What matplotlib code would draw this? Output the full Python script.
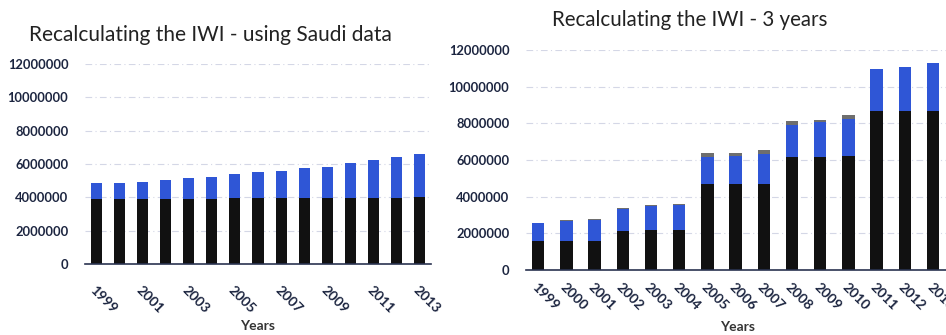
import matplotlib
matplotlib.use("Agg")
import matplotlib.pyplot as plt
import numpy as np

years = [str(y) for y in range(1999, 2014)]

# Left panel: IWI recalculated with Saudi data (values in units)
saudi_base = [3.90e6] * 6 + [3.96e6] * 8 + [4.02e6]
saudi_extra = [0.98e6, 0.98e6, 1.04e6, 1.12e6, 1.26e6, 1.34e6, 1.42e6, 1.56e6,
               1.64e6, 1.78e6, 1.86e6, 2.08e6, 2.30e6, 2.46e6, 2.60e6]
saudi_ticklabels = ["1999", "", "2001", "", "2003", "", "2005", "", "2007", "",
                    "2009", "", "2011", "", "2013"]

# Right panel: IWI recalculated over 3-year periods
three_base = [1.60e6, 1.60e6, 1.60e6, 2.13e6, 2.19e6, 2.19e6, 4.67e6, 4.67e6,
              4.67e6, 6.17e6, 6.17e6, 6.24e6, 8.66e6, 8.66e6, 8.66e6]
three_mid = [0.95e6, 1.06e6, 1.11e6, 1.21e6, 1.29e6, 1.36e6, 1.49e6, 1.57e6,
             1.66e6, 1.75e6, 1.90e6, 2.01e6, 2.28e6, 2.43e6, 2.61e6]
three_top = [0.04e6, 0.06e6, 0.08e6, 0.05e6, 0.06e6, 0.06e6, 0.22e6, 0.14e6,
             0.20e6, 0.20e6, 0.10e6, 0.20e6, 0.0, 0.0, 0.0]

yticks = [0, 2000000, 4000000, 6000000, 8000000, 10000000, 12000000]

BLACK = "#111111"
BLUE = "#2f56d6"
GRAY = "#6e6e6e"
LABEL = "#1c2540"
FONT = "Lato"

W, H = 946, 335
fig = plt.figure(figsize=(W / 100, H / 100), dpi=100)


def px_axes(x0, y0, x1, y1):
    return fig.add_axes([x0 / W, 1 - y1 / H, (x1 - x0) / W, (y1 - y0) / H])


def style(ax, ticklabels, xlim, xpad):
    ax.set_xlim(*xlim)
    ax.set_ylim(0, 12000000)
    ax.set_yticks(yticks)
    ax.set_yticklabels([str(v) for v in yticks], fontsize=9.3, fontweight="bold",
                       color=LABEL, family=FONT)
    ax.tick_params(axis="y", length=0, pad=12)
    ax.tick_params(axis="x", length=0, pad=xpad)
    ax.set_xticks(np.arange(len(ticklabels)))
    ax.set_xticklabels(ticklabels, rotation=-45, ha="left", va="top",
                       rotation_mode="anchor", fontsize=10, fontweight="bold",
                       color=LABEL, family=FONT)
    for s in ("top", "right", "left"):
        ax.spines[s].set_visible(False)
    ax.spines["bottom"].set_color("#2a3350")
    ax.spines["bottom"].set_linewidth(1.2)
    ax.set_axisbelow(True)
    ax.yaxis.grid(True, color="#d4d7e6", linewidth=0.8, linestyle=(0, (6, 3, 1, 3)))
    ax.set_facecolor("white")


x = np.arange(len(years))

# Left chart
ax1 = px_axes(85, 64, 431, 264)
ax1.bar(x, saudi_base, width=0.48, color=BLACK)
ax1.bar(x, saudi_extra, width=0.48, bottom=saudi_base, color=BLUE)
style(ax1, saudi_ticklabels, (-0.5, 14.5), 14)
ax1.set_xlabel("Years", fontsize=10, fontweight="bold", color="#333333",
               family=FONT, labelpad=4)

# Right chart
ax2 = px_axes(526, 50, 950, 270)
b2 = np.array(three_base)
m2 = np.array(three_mid)
ax2.bar(x, three_base, width=0.44, color=BLACK)
ax2.bar(x, three_mid, width=0.44, bottom=b2, color=BLUE)
ax2.bar(x, three_top, width=0.44, bottom=b2 + m2, color=GRAY)
style(ax2, years, (-0.43, 14.6), 8)
ax2.set_xlabel("Years", fontsize=10, fontweight="bold", color="#333333",
               family=FONT, labelpad=6)

fig.text(29 / W, 1 - 41 / H, "Recalculating the IWI - using Saudi data",
         fontsize=15, family=FONT, color="#222222", ha="left", va="baseline")
fig.text(552 / W, 1 - 26 / H, "Recalculating the IWI - 3 years",
         fontsize=14.8, family=FONT, color="#222222", ha="left", va="baseline")

fig.savefig("out.png", dpi=100, facecolor="white")
